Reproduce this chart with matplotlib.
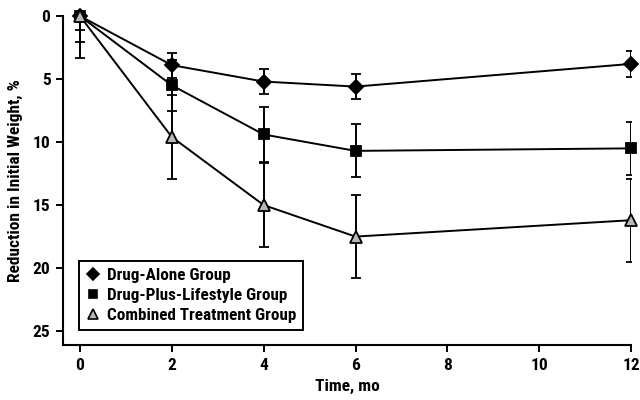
import matplotlib
matplotlib.use("Agg")
from matplotlib import pyplot as plt
from matplotlib.lines import Line2D
import numpy as np

plt.rcParams['font.family'] = ['Roboto Condensed', 'Liberation Sans Narrow', 'Liberation Sans', 'DejaVu Sans']
plt.rcParams['font.weight'] = 'bold'

months = [0, 2, 4, 6, 12]

# mean reduction in initial weight, %, and error bar half-widths
drug_alone = [0, 3.9, 5.2, 5.6, 3.8]
drug_alone_err = [1.1, 1.0, 1.0, 1.0, 1.0]

drug_lifestyle = [0, 5.5, 9.4, 10.7, 10.5]
drug_lifestyle_err = [2.1, 2.0, 2.2, 2.1, 2.1]

combined = [0, 9.6, 15.0, 17.5, 16.2]
combined_err = [3.3, 3.3, 3.3, 3.3, 3.3]

x_ticks = [0, 2, 4, 6, 8, 10, 12]
y_ticks = [0, 5, 10, 15, 20, 25]

fig = plt.figure(figsize=(6.4, 4.0), dpi=100)
ax = fig.add_axes([0.0984, 0.1375, 0.8876, 0.8225])

series = [
    (drug_alone, drug_alone_err, 'D', 'black', 7, 'Drug-Alone Group'),
    (drug_lifestyle, drug_lifestyle_err, 's', 'black', 7.5, 'Drug-Plus-Lifestyle Group'),
    (combined, combined_err, '^', '#b8b8b8', 8.5, 'Combined Treatment Group'),
]

handles = []
for vals, err, mk, fc, ms, lab in series:
    line, caps, bars = ax.errorbar(months, vals, yerr=err, fmt='-', color='black',
                                   lw=1.4, elinewidth=1.4, capsize=3.8, capthick=1.4,
                                   marker=mk, markersize=ms, markerfacecolor=fc,
                                   markeredgecolor='black', markeredgewidth=1.3)
    line.set_clip_on(False)
    line.set_zorder(5)
    # marker-only handle for the legend
    handles.append(Line2D([], [], ls='none', marker=mk, markersize=ms * 0.85,
                          markerfacecolor=fc, markeredgecolor='black',
                          markeredgewidth=1.2, label=lab))

ax.set_xlim(-0.37, 12)
ax.set_ylim(26.1, 0)
ax.set_xticks(x_ticks)
ax.set_yticks(y_ticks)

for s in ['top', 'right']:
    ax.spines[s].set_visible(False)
for s in ['left', 'bottom']:
    ax.spines[s].set_linewidth(1.5)

ax.tick_params(direction='out', length=5, width=1.4, labelsize=12.5, pad=4)
for t in ax.get_xticklabels() + ax.get_yticklabels():
    t.set_fontweight('bold')

ax.set_xlabel('Time, mo', fontsize=12.5, fontweight='bold', labelpad=5)
ax.set_ylabel('Reduction in Initial Weight, %', fontsize=12.5, fontweight='bold', labelpad=7)

leg = ax.legend(handles=handles, loc='lower left', bbox_to_anchor=(0.028, 0.046),
                borderaxespad=0, frameon=True, fancybox=False,
                handlelength=0.8, handletextpad=0.45, labelspacing=0.3,
                borderpad=0.4, prop={'weight': 'bold', 'size': 12.3})
leg.get_frame().set_edgecolor('black')
leg.get_frame().set_linewidth(1.4)
leg.get_frame().set_alpha(1)

fig.savefig('out.png', dpi=100)
